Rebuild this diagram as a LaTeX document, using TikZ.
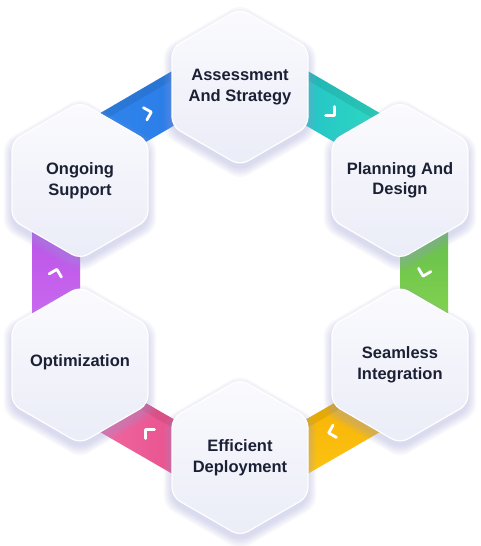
\documentclass[tikz,border=0pt]{standalone}
\usepackage{fontspec}
\setmainfont{Liberation Sans}
\usetikzlibrary{calc}
\definecolor{txt}{HTML}{1B2035}
\definecolor{hexTop}{HTML}{FBFBFE}
\definecolor{hexBot}{HTML}{EAECF7}
\definecolor{shadowc}{HTML}{9A9FD6}
\definecolor{blueA}{HTML}{2A78E4}
\definecolor{blueB}{HTML}{3088EE}
\definecolor{tealA}{HTML}{1FB3CB}
\definecolor{tealB}{HTML}{31E4BE}
\definecolor{greenA}{HTML}{55B449}
\definecolor{greenB}{HTML}{93DD51}
\definecolor{yelA}{HTML}{F3AE00}
\definecolor{yelB}{HTML}{FFC716}
\definecolor{pinkA}{HTML}{F274AB}
\definecolor{pinkB}{HTML}{E4407E}
\definecolor{purA}{HTML}{D474F4}
\definecolor{purB}{HTML}{B048E2}
\pgfdeclarelayer{bg}
\pgfdeclarelayer{mid}
\pgfsetlayers{bg,mid,main}
% hexagon around a node: node, dy, radius, options
\newcommand{\hexp}[4]{%
  \path[#4] ($(#1.center)+(0,#2)+(90:#3)$) -- ($(#1.center)+(0,#2)+(30:#3)$)
    -- ($(#1.center)+(0,#2)+(-30:#3)$) -- ($(#1.center)+(0,#2)+(-90:#3)$)
    -- ($(#1.center)+(0,#2)+(-150:#3)$) -- ($(#1.center)+(0,#2)+(150:#3)$) -- cycle;}
% ribbon band from node to node, on the outer side
\newcommand{\band}[3]{%
  \path[#3] (#1.center) -- (#2.center) -- ($(#2.center)!48pt!-90:(#1.center)$)
    -- ($(#1.center)!48pt!90:(#2.center)$) -- cycle;}
% stripe inside a band between offsets #3 and #4
\newcommand{\stripe}[5]{%
  \path[#5] ($(#1.center)!#3!90:(#2.center)$) -- ($(#2.center)!#3!-90:(#1.center)$)
    -- ($(#2.center)!#4!-90:(#1.center)$) -- ($(#1.center)!#4!90:(#2.center)$) -- cycle;}
% chevron pointing from #1 towards #2
\newcommand{\chev}[2]{%
  \coordinate (cm) at ($($(#1.center)!0.5!(#2.center)$)!24pt!90:(#2.center)$);
  \coordinate (cv) at ($(cm)!3.5pt!(#2.center)$);
  \draw[chevron] ($(cv)!9pt!135:(#2.center)$) -- (cv) -- ($(cv)!9pt!-135:(#2.center)$);}
\newcommand{\hexbox}[1]{%
  \foreach \k in {0,...,6}{%
    \pgfmathsetmacro{\rr}{79+1.5*\k}%
    \hexp{#1}{5}{\rr}{fill=shadowc, fill opacity=0.06, rounded corners=10pt}}%
  \hexp{#1}{0}{78.5}{hexfill}}
\begin{document}
\begin{tikzpicture}[x=1pt,y=-1pt,
  lbl/.style={font=\bfseries\fontsize{16.5}{20.5}\selectfont, text=txt, align=center, inner sep=0pt},
  hexfill/.style={top color=hexTop, bottom color=hexBot, draw=white, line width=1.2pt, rounded corners=9pt},
  chevron/.style={draw=white, line width=2.8pt, line cap=round, line join=round}]
\useasboundingbox (0,0) rectangle (480,546);

\node[lbl] (A) at (240,87) {Assessment\\And Strategy};
\node[lbl] (P) at (400,180.5) {Planning And\\Design};
\node[lbl] (S) at (400,365) {Seamless\\Integration};
\node[lbl] (E) at (240,457.5) {Efficient\\Deployment};
\node[lbl] (O) at (80,365) {\raisebox{9pt}{Optimization}};
\node[lbl] (G) at (80,180.5) {Ongoing\\Support};

\begin{pgfonlayer}{bg}
  \fill[white] (0,0) rectangle (480,546);
  \band{A}{P}{left color=tealA, right color=tealB}
  \band{P}{S}{top color=greenA, bottom color=greenB}
  \band{S}{E}{top color=yelA, bottom color=yelB}
  \band{E}{O}{left color=pinkA, right color=pinkB}
  \band{O}{G}{top color=purB, bottom color=purA}
  \band{G}{A}{left color=blueB, right color=blueA}
  \stripe{A}{P}{40pt}{48pt}{fill=black, fill opacity=0.08}
  \stripe{G}{A}{40pt}{48pt}{fill=black, fill opacity=0.08}
  \stripe{S}{E}{0pt}{8pt}{fill=black, fill opacity=0.07}
  \stripe{E}{O}{0pt}{8pt}{fill=black, fill opacity=0.07}
  \chev{A}{P}
  \chev{P}{S}
  \chev{S}{E}
  \chev{E}{O}
  \chev{O}{G}
  \chev{G}{A}
\end{pgfonlayer}

\begin{pgfonlayer}{mid}
  \hexbox{A}
  \hexbox{P}
  \hexbox{S}
  \hexbox{E}
  \hexbox{O}
  \hexbox{G}
\end{pgfonlayer}
\end{tikzpicture}
\end{document}
